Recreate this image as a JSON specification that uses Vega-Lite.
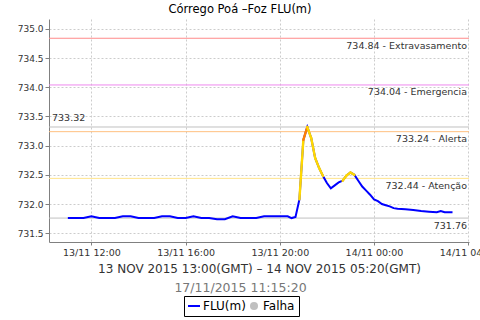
{
  "$schema": "https://vega.github.io/schema/vega-lite/v6.json",
  "width": 420,
  "height": 223,
  "autosize": "none",
  "padding": {"left": 49, "top": 19, "right": 11, "bottom": 78},
  "background": "white",
  "title": {"text": "Córrego Poá –Foz FLU(m)", "font": "DejaVu Sans", "fontSize": 11.5, "fontWeight": "normal", "color": "#000000", "anchor": "middle", "dx": -19, "offset": 4},
  "config": {"view": {"stroke": null}, "text": {"font": "DejaVu Sans"}},
  "datasets": {
    "serie": [
      {"t": "2015-11-13T11:00", "v": 731.76},
      {"t": "2015-11-13T11:20", "v": 731.76},
      {"t": "2015-11-13T11:40", "v": 731.76},
      {"t": "2015-11-13T12:00", "v": 731.79},
      {"t": "2015-11-13T12:20", "v": 731.76},
      {"t": "2015-11-13T12:40", "v": 731.76},
      {"t": "2015-11-13T13:00", "v": 731.76},
      {"t": "2015-11-13T13:20", "v": 731.79},
      {"t": "2015-11-13T13:40", "v": 731.79},
      {"t": "2015-11-13T14:00", "v": 731.76},
      {"t": "2015-11-13T14:20", "v": 731.76},
      {"t": "2015-11-13T14:40", "v": 731.76},
      {"t": "2015-11-13T15:00", "v": 731.79},
      {"t": "2015-11-13T15:20", "v": 731.79},
      {"t": "2015-11-13T15:40", "v": 731.76},
      {"t": "2015-11-13T16:00", "v": 731.76},
      {"t": "2015-11-13T16:20", "v": 731.79},
      {"t": "2015-11-13T16:40", "v": 731.76},
      {"t": "2015-11-13T17:00", "v": 731.76},
      {"t": "2015-11-13T17:20", "v": 731.74},
      {"t": "2015-11-13T17:40", "v": 731.74},
      {"t": "2015-11-13T18:00", "v": 731.79},
      {"t": "2015-11-13T18:20", "v": 731.76},
      {"t": "2015-11-13T18:40", "v": 731.76},
      {"t": "2015-11-13T19:00", "v": 731.76},
      {"t": "2015-11-13T19:20", "v": 731.79},
      {"t": "2015-11-13T19:40", "v": 731.79},
      {"t": "2015-11-13T20:00", "v": 731.79},
      {"t": "2015-11-13T20:20", "v": 731.79},
      {"t": "2015-11-13T20:30", "v": 731.76},
      {"t": "2015-11-13T20:40", "v": 731.78},
      {"t": "2015-11-13T20:50", "v": 732.08},
      {"t": "2015-11-13T21:00", "v": 733.10},
      {"t": "2015-11-13T21:10", "v": 733.32},
      {"t": "2015-11-13T21:20", "v": 733.13},
      {"t": "2015-11-13T21:30", "v": 732.79},
      {"t": "2015-11-13T21:40", "v": 732.62},
      {"t": "2015-11-13T21:50", "v": 732.48},
      {"t": "2015-11-13T22:00", "v": 732.36},
      {"t": "2015-11-13T22:10", "v": 732.27},
      {"t": "2015-11-13T22:20", "v": 732.32},
      {"t": "2015-11-13T22:30", "v": 732.37},
      {"t": "2015-11-13T22:40", "v": 732.40},
      {"t": "2015-11-13T22:50", "v": 732.49},
      {"t": "2015-11-13T23:00", "v": 732.54},
      {"t": "2015-11-13T23:10", "v": 732.50},
      {"t": "2015-11-13T23:20", "v": 732.40},
      {"t": "2015-11-13T23:30", "v": 732.30},
      {"t": "2015-11-13T23:40", "v": 732.23},
      {"t": "2015-11-13T23:50", "v": 732.16},
      {"t": "2015-11-14T00:00", "v": 732.08},
      {"t": "2015-11-14T00:10", "v": 732.05},
      {"t": "2015-11-14T00:20", "v": 732.00},
      {"t": "2015-11-14T00:30", "v": 731.98},
      {"t": "2015-11-14T00:40", "v": 731.96},
      {"t": "2015-11-14T00:50", "v": 731.93},
      {"t": "2015-11-14T01:00", "v": 731.92},
      {"t": "2015-11-14T01:20", "v": 731.91},
      {"t": "2015-11-14T01:40", "v": 731.90},
      {"t": "2015-11-14T02:00", "v": 731.88},
      {"t": "2015-11-14T02:20", "v": 731.87},
      {"t": "2015-11-14T02:40", "v": 731.86},
      {"t": "2015-11-14T02:50", "v": 731.88},
      {"t": "2015-11-14T03:00", "v": 731.86},
      {"t": "2015-11-14T03:20", "v": 731.86}
    ],
    "limites": [
      {"v": 734.84, "nome": "Extravasamento", "rotulo": "734.84 - Extravasamento"},
      {"v": 734.04, "nome": "Emergencia", "rotulo": "734.04 - Emergencia"},
      {"v": 733.32, "nome": "Máximo", "rotulo": "733.32"},
      {"v": 733.24, "nome": "Alerta", "rotulo": "733.24 - Alerta"},
      {"v": 732.44, "nome": "Atenção", "rotulo": "732.44 - Atenção"},
      {"v": 731.76, "nome": "Mínimo", "rotulo": "731.76"}
    ]
  },
  "encoding": {
    "y": {
      "field": "v",
      "type": "quantitative",
      "scale": {"domain": [731.35, 735.17], "nice": false, "zero": false},
      "axis": {
        "title": null,
        "values": [731.5, 732, 732.5, 733, 733.5, 734, 734.5, 735],
        "format": ".1f",
        "grid": true,
        "gridDash": [2, 2],
        "gridColor": "#cccccc",
        "tickSize": 4,
        "tickColor": "#808080",
        "domainColor": "#808080",
        "labelFont": "DejaVu Sans",
        "labelFontSize": 9,
        "labelColor": "#333333",
        "labelPadding": 2
      }
    }
  },
  "resolve": {"axis": {"x": "independent"}},
  "layer": [
    {
      "data": {"name": "limites"},
      "mark": {"type": "rule", "strokeWidth": 1},
      "encoding": {
        "stroke": {
          "field": "nome",
          "type": "nominal",
          "scale": {
            "domain": ["Extravasamento", "Emergencia", "Máximo", "Alerta", "Atenção", "Mínimo"],
            "range": ["#ff8a8a", "#ee88ee", "#c0c0c0", "#ffc080", "#ffe48a", "#c0c0c0"]
          },
          "legend": null
        }
      }
    },
    {
      "data": {"name": "serie", "format": {"parse": {"t": "date"}}},
      "mark": {"type": "line", "strokeWidth": 2},
      "encoding": {
        "x": {
          "field": "t",
          "type": "temporal",
          "scale": {"domain": [{"year": 2015, "month": 11, "date": 13, "hours": 10, "minutes": 12}, {"year": 2015, "month": 11, "date": 14, "hours": 4, "minutes": 2}]},
          "axis": {
            "orient": "bottom",
            "title": "13 NOV 2015 13:00(GMT) – 14 NOV 2015 05:20(GMT)",
            "values": [
              {"year": 2015, "month": 11, "date": 13, "hours": 12},
              {"year": 2015, "month": 11, "date": 13, "hours": 16},
              {"year": 2015, "month": 11, "date": 13, "hours": 20},
              {"year": 2015, "month": 11, "date": 14, "hours": 0},
              {"year": 2015, "month": 11, "date": 14, "hours": 4}
            ],
            "format": "%d/%m %H:%M",
            "grid": true,
            "gridDash": [2, 2],
            "gridColor": "#cccccc",
            "tickSize": 3,
            "tickColor": "#808080",
            "domainColor": "#808080",
            "labelFont": "DejaVu Sans",
            "labelFontSize": 9.5,
            "labelColor": "#333333",
            "labelPadding": 2,
            "labelFlush": false,
            "labelOverlap": false,
            "titleFont": "DejaVu Sans",
            "titleFontSize": 12,
            "titleFontWeight": "normal",
            "titleColor": "#333333",
            "titleY": 30.5,
            "titleBaseline": "alphabetic"
          }
        },
        "color": {
          "datum": "FLU(m)",
          "type": "nominal",
          "scale": {"domain": ["FLU(m)", "Falha"], "range": ["#0000ff", "#c0c0c0"]},
          "legend": {
            "title": null,
            "orient": "none",
            "legendX": 135,
            "legendY": 277,
            "direction": "horizontal",
            "strokeColor": "#000000",
            "padding": 4,
            "labelFont": "DejaVu Sans",
            "labelFontSize": 12,
            "labelColor": "#000000",
            "labelOffset": 3,
            "columnPadding": 2,
            "symbolStrokeWidth": 2,
            "symbolSize": 144,
            "encode": {
              "symbols": {
                "update": {
                  "shape": {"signal": "datum.value === 'Falha' ? 'circle' : 'stroke'"},
                  "size": {"signal": "datum.value === 'Falha' ? 64 : 144"},
                  "fill": {"signal": "datum.value === 'Falha' ? '#c0c0c0' : 'transparent'"},
                  "stroke": {"signal": "datum.value === 'Falha' ? '#c0c0c0' : '#0000ff'"},
                  "strokeWidth": {"signal": "datum.value === 'Falha' ? 0 : 2"}
                }
              }
            }
          }
        }
      }
    },
    {
      "data": {"name": "serie", "format": {"parse": {"t": "date"}}},
      "transform": [
        {"window": [{"op": "lag", "field": "v", "as": "v0"}, {"op": "lag", "field": "t", "as": "t0"}], "sort": [{"field": "t", "order": "ascending"}]},
        {"filter": "datum.v0 != null && datum.v > 732.44"}
      ],
      "mark": {"type": "rule", "strokeWidth": 2.4, "strokeCap": "round"},
      "encoding": {
        "x": {
          "field": "t",
          "type": "temporal",
          "axis": {
            "orient": "bottom",
            "title": "17/11/2015 11:15:20",
            "labels": false,
            "ticks": false,
            "domain": false,
            "grid": false,
            "titleFont": "DejaVu Sans",
            "titleFontSize": 12.5,
            "titleFontWeight": "normal",
            "titleColor": "#777777",
            "titleX": 191,
            "titleY": 49.5,
            "titleAlign": "center",
            "titleBaseline": "alphabetic"
          }
        },
        "x2": {"field": "t0"},
        "y2": {"field": "v0"},
        "color": {
          "condition": [{"test": "datum.v > 733.24", "value": "#ff8000"}],
          "value": "#ffd800"
        }
      }
    },
    {
      "data": {"name": "limites"},
      "transform": [{"filter": "datum.nome !== 'Máximo'"}],
      "mark": {"type": "text", "align": "right", "baseline": "middle", "dx": -2, "dy": 7.5, "font": "DejaVu Sans", "fontSize": 9.5, "color": "#333333"},
      "encoding": {
        "x": {"datum": {"year": 2015, "month": 11, "date": 14, "hours": 4, "minutes": 2}, "type": "temporal", "axis": null},
        "text": {"field": "rotulo"}
      }
    },
    {
      "data": {"name": "limites"},
      "transform": [{"filter": "datum.nome === 'Máximo'"}],
      "mark": {"type": "text", "align": "left", "baseline": "middle", "dx": 3, "dy": -8.5, "font": "DejaVu Sans", "fontSize": 9.5, "color": "#333333"},
      "encoding": {
        "x": {"datum": {"year": 2015, "month": 11, "date": 13, "hours": 10, "minutes": 12}, "type": "temporal", "axis": null},
        "text": {"field": "rotulo"}
      }
    }
  ]
}
